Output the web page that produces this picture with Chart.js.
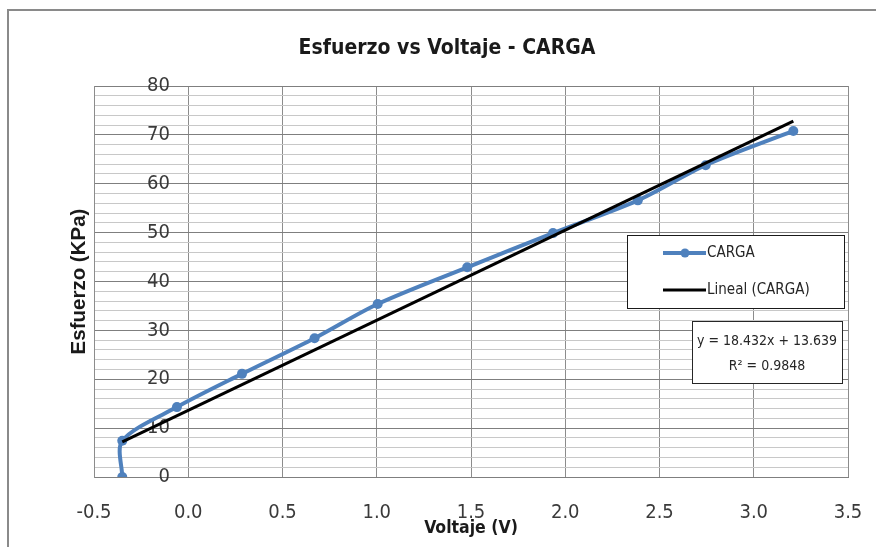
<!DOCTYPE html>
<html>
<head>
<meta charset="utf-8">
<script src="https://cdn.jsdelivr.net/npm/chart.js@4.4.1/dist/chart.umd.min.js"></script>
<style>
  html, body { margin: 0; padding: 0; background: #fff; }
  #wrap { width: 876px; height: 547px; }
</style>
</head>
<body>
<div id="wrap"><canvas id="chart" width="876" height="547"></canvas></div>
<script>
// Data
const voltaje = [-0.35, -0.35, -0.06, 0.285, 0.67, 1.005, 1.48, 1.935, 2.385, 2.745, 3.21];
const esfuerzo = [0, 7.4, 14.3, 21.1, 28.4, 35.4, 42.9, 49.9, 56.6, 63.8, 70.8];
const trendX = [-0.35, 3.21];
const trendY = [7.2, 72.8];
const xTicks = [-0.5, 0, 0.5, 1, 1.5, 2, 2.5, 3, 3.5];
const yTicks = [0, 10, 20, 30, 40, 50, 60, 70, 80];
const legendLabels = ["CARGA", "Lineal (CARGA)"];
const equationText = ["y = 18.432x + 13.639", "R² = 0.9848"];

const NARROW = '"Liberation Sans Narrow", "DejaVu Sans Condensed", sans-serif';
const BLUE = "#4F81BD";

// Frame + white background
const framePlugin = {
  id: "frame",
  beforeDraw(chart) {
    const c = chart.ctx;
    c.save();
    c.fillStyle = "#fff";
    c.fillRect(0, 0, chart.width, chart.height);
    c.strokeStyle = "#8a8a8a";
    c.lineWidth = 2;
    c.beginPath();
    c.moveTo(8, chart.height);
    c.lineTo(8, 10);
    c.lineTo(chart.width, 10);
    c.stroke();
    c.restore();
  },
};

// Legend and trendline equation boxes
const boxesPlugin = {
  id: "boxes",
  afterDraw(chart) {
    const c = chart.ctx;
    c.save();
    // legend
    c.fillStyle = "#fff";
    c.fillRect(627, 235, 217, 73);
    c.strokeStyle = "#1a1a1a";
    c.lineWidth = 1;
    c.strokeRect(627.5, 235.5, 217, 73);

    c.lineWidth = 4;
    c.strokeStyle = BLUE;
    c.beginPath();
    c.moveTo(663, 253);
    c.lineTo(706, 253);
    c.stroke();
    c.fillStyle = BLUE;
    c.beginPath();
    c.arc(685, 253, 4.5, 0, Math.PI * 2);
    c.fill();

    c.strokeStyle = "#000";
    c.lineWidth = 3;
    c.beginPath();
    c.moveTo(663, 290);
    c.lineTo(706, 290);
    c.stroke();

    c.fillStyle = "#262626";
    c.font = "15px " + NARROW;
    c.textBaseline = "middle";
    c.textAlign = "left";
    c.fillText(legendLabels[0], 707, 253);
    c.fillText(legendLabels[1], 707, 290);

    // equation box
    c.fillStyle = "#fff";
    c.fillRect(692, 321, 150, 62);
    c.strokeStyle = "#262626";
    c.lineWidth = 1;
    c.strokeRect(692.5, 321.5, 150, 62);
    c.fillStyle = "#262626";
    c.font = "14px " + NARROW;
    c.textAlign = "center";
    c.fillText(equationText[0], 767, 341);
    c.fillText(equationText[1], 767, 366);
    c.restore();
  },
};

const ctx = document.getElementById("chart").getContext("2d");

new Chart(ctx, {
  type: "scatter",
  data: {
    datasets: [
      {
        label: legendLabels[0],
        data: voltaje.map((x, i) => ({ x: x, y: esfuerzo[i] })),
        showLine: true,
        borderColor: BLUE,
        backgroundColor: BLUE,
        borderWidth: 4,
        tension: 0.3,
        pointRadius: 5,
        pointBorderWidth: 0,
        order: 2,
      },
      {
        label: legendLabels[1],
        data: trendX.map((x, i) => ({ x: x, y: trendY[i] })),
        showLine: true,
        borderColor: "#000",
        borderWidth: 3,
        pointRadius: 0,
        order: 1,
      },
    ],
  },
  options: {
    responsive: false,
    animation: false,
    layout: { padding: { left: 46, right: 28, top: 0, bottom: 0 } },
    plugins: {
      legend: { display: false },
      tooltip: { enabled: false },
      title: {
        display: true,
        text: "Esfuerzo vs Voltaje - CARGA",
        color: "#1a1a1a",
        font: { family: NARROW, size: 21, weight: "bold" },
        padding: { top: 36.4, bottom: 24.4 },
      },
    },
    scales: {
      x: {
        type: "linear",
        min: xTicks[0],
        max: xTicks[xTicks.length - 1],
        afterBuildTicks: (scale) => {
          scale.ticks = xTicks.map((v) => ({ value: v }));
        },
        afterFit: (scale) => {
          scale.height = 70;
          scale.paddingLeft = 0;
          scale.paddingRight = 0;
        },
        grid: { color: "#8c8c8c", drawTicks: false },
        border: { color: "#7f7f7f" },
        ticks: {
          color: "#3a3a3a",
          font: { family: NARROW, size: 20 },
          padding: 24,
          callback: (v) => Number(v).toFixed(1),
        },
        title: {
          display: true,
          text: "Voltaje (V)",
          color: "#1a1a1a",
          font: { family: NARROW, size: 17.5, weight: "bold" },
          padding: { top: 0, bottom: 8.5 },
        },
      },
      y: {
        type: "linear",
        min: yTicks[0],
        max: yTicks[yTicks.length - 1],
        afterFit: (scale) => {
          scale.width = 48;
        },
        grid: {
          drawTicks: false,
          color: (c) => (c.tick && c.tick.value % 10 === 0 ? "#7f7f7f" : "#c8c8c8"),
        },
        border: { color: "#8c8c8c" },
        ticks: {
          stepSize: 2,
          autoSkip: false,
          mirror: true,
          crossAlign: "far",
          padding: 53,
          color: "#3a3a3a",
          font: { family: NARROW, size: 20 },
          callback: (v) => (yTicks.includes(v) ? v : ""),
        },
        title: {
          display: true,
          text: "Esfuerzo (KPa)",
          color: "#1a1a1a",
          font: { family: '"Liberation Sans", Arial, sans-serif', size: 20.5, weight: "bold" },
          padding: { top: 21.5, bottom: 0 },
        },
      },
    },
  },
  plugins: [framePlugin, boxesPlugin],
});
</script>
</body>
</html>
